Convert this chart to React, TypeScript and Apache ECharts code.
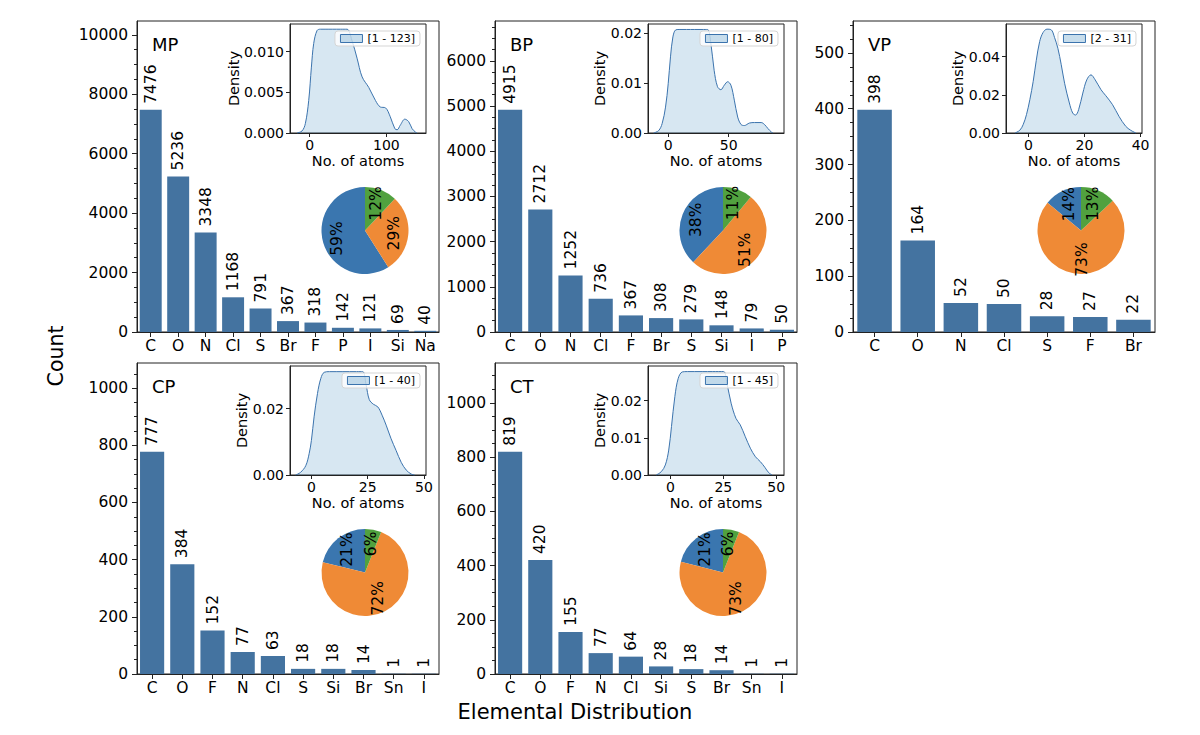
import React, { useEffect, useRef } from "react";
import * as echarts from "echarts";

// ---------- bar data ----------
const mpElements = ["C", "O", "N", "Cl", "S", "Br", "F", "P", "I", "Si", "Na"];
const mpCounts = [7476, 5236, 3348, 1168, 791, 367, 318, 142, 121, 69, 40];
const bpElements = ["C", "O", "N", "Cl", "F", "Br", "S", "Si", "I", "P"];
const bpCounts = [4915, 2712, 1252, 736, 367, 308, 279, 148, 79, 50];
const vpElements = ["C", "O", "N", "Cl", "S", "F", "Br"];
const vpCounts = [398, 164, 52, 50, 28, 27, 22];
const cpElements = ["C", "O", "F", "N", "Cl", "S", "Si", "Br", "Sn", "I"];
const cpCounts = [777, 384, 152, 77, 63, 18, 18, 14, 1, 1];
const ctElements = ["C", "O", "F", "N", "Cl", "Si", "S", "Br", "Sn", "I"];
const ctCounts = [819, 420, 155, 77, 64, 28, 18, 14, 1, 1];

// ---------- count-axis tick values ----------
const mpTicks = [0, 2000, 4000, 6000, 8000, 10000];
const bpTicks = [0, 1000, 2000, 3000, 4000, 5000, 6000];
const vpTicks = [0, 100, 200, 300, 400, 500];
const cpTicks = [0, 200, 400, 600, 800, 1000];
const ctTicks = [0, 200, 400, 600, 800, 1000];

// ---------- pie shares (blue, orange, green) ----------
const mpShares = [59, 29, 12];
const bpShares = [38, 51, 11];
const vpShares = [14, 73, 13];
const cpShares = [21, 72, 6];
const ctShares = [21, 73, 6];

// ---------- density insets ----------
const mpRange = "[1 - 123]";
const bpRange = "[1 - 80]";
const vpRange = "[2 - 31]";
const cpRange = "[1 - 40]";
const ctRange = "[1 - 45]";

const mpDensity = [
  [-16.5, 0], [-10, 0.00025], [-5.7, 0.00115], [-1.3, 0.004], [2.2, 0.0081], [5.2, 0.011],
  [9.6, 0.0126], [14, 0.01276], [20, 0.01276], [30, 0.01276], [40, 0.01276], [48.7, 0.01276],
  [55, 0.0114], [61.7, 0.0092], [68.3, 0.0069], [77, 0.0056], [85.7, 0.004], [92, 0.0032],
  [98.7, 0.0031], [105, 0.002], [111, 0.00053], [114, 0.0004], [118, 0.00095], [124, 0.0017],
  [129, 0.0014], [133.5, 0.00053], [138, 0.0001], [140, 0],
];
const bpDensity = [
  [-12, 0], [-7.8, 0.0005], [-5, 0.0019], [-2.2, 0.0052], [0, 0.0099], [1.9, 0.0153],
  [3.9, 0.0193], [6.1, 0.0207], [9, 0.0208], [15, 0.0208], [22, 0.0208], [28, 0.0208],
  [32.5, 0.0208], [35.3, 0.018], [38, 0.0126], [40.8, 0.0093], [43.6, 0.0087], [46.4, 0.0096],
  [49.2, 0.0103], [51.9, 0.0096], [54.7, 0.0066], [57.5, 0.0032], [60.3, 0.0017], [63, 0.0015],
  [67.2, 0.002], [71.4, 0.0021], [76.9, 0.0021], [79.7, 0.0017], [82.5, 0.0009], [85.3, 0.0002],
  [86.7, 0],
];
const vpDensity = [
  [-4.8, 0], [-3.1, 0.0014], [-1.9, 0.0043], [-0.7, 0.0096], [0.5, 0.0174], [1.7, 0.027],
  [2.8, 0.038], [4.0, 0.0478], [5.2, 0.0525], [6.6, 0.0543], [8.1, 0.054], [9.3, 0.05],
  [10.5, 0.0443], [11.7, 0.0357], [12.9, 0.026], [14.6, 0.0157], [15.8, 0.0104], [16.8, 0.0094],
  [17.9, 0.0122], [19.4, 0.0209], [20.8, 0.0278], [22.3, 0.0304], [23.8, 0.0278], [25.9, 0.0226],
  [27.6, 0.0195], [30.0, 0.0148], [32.3, 0.0087], [34.7, 0.0035], [36.5, 0.0014], [38.3, 0],
];
const cpDensity = [
  [-7, 0], [-4.8, 0.0008], [-2.5, 0.0028], [-1, 0.0064], [0, 0.0104], [1.2, 0.0175],
  [2.7, 0.0245], [4.2, 0.0291], [5.7, 0.0309], [8, 0.0311], [14, 0.0311], [20, 0.0311],
  [22.8, 0.0311], [24.3, 0.0271], [25.7, 0.0227], [27.5, 0.0213], [29.5, 0.0205], [31.4, 0.018],
  [33.2, 0.015], [35.4, 0.0109], [37.6, 0.0074], [39.9, 0.0038], [42.1, 0.0015], [44.3, 0.0003],
  [45.8, 0],
];
const ctDensity = [
  [-6.7, 0], [-4.3, 0.0009], [-2.4, 0.0027], [-0.8, 0.0067], [0.5, 0.013], [2.1, 0.0211],
  [3.7, 0.026], [5.6, 0.0277], [8, 0.0278], [15, 0.0278], [20, 0.0278], [25.1, 0.0278],
  [26.7, 0.0247], [28.7, 0.0193], [31, 0.0152], [33, 0.0135], [35.4, 0.0103], [37.8, 0.0072],
  [40.2, 0.0049], [42.5, 0.0036], [44.6, 0.0021], [46.5, 0.0006], [48.1, 0],
];

// inset axis limits and ticks
const mpXLim = [-25.7, 151.6];
const bpXLim = [-16.7, 95.8];
const vpXLim = [-8, 40.5];
const cpXLim = [-9.5, 50.9];
const ctXLim = [-10.6, 53.7];
const mpYMax = 0.0134;
const bpYMax = 0.0219;
const vpYMax = 0.057;
const cpYMax = 0.0328;
const ctYMax = 0.0293;
const mpXTicks = [0, 100];
const bpXTicks = [0, 50];
const vpXTicks = [0, 20, 40];
const cpXTicks = [0, 25, 50];
const ctXTicks = [0, 25, 50];
const mpYTicks = [0, 0.005, 0.01];
const bpYTicks = [0, 0.01, 0.02];
const vpYTicks = [0, 0.02, 0.04];
const cpYTicks = [0, 0.02];
const ctYTicks = [0, 0.01, 0.02];

const panels = [
  { title: "MP", cats: mpElements, counts: mpCounts, ticks: mpTicks, minor: 500, shares: mpShares, range: mpRange, density: mpDensity, xlim: mpXLim, ymax: mpYMax, xt: mpXTicks, yt: mpYTicks, dec: 3 },
  { title: "BP", cats: bpElements, counts: bpCounts, ticks: bpTicks, minor: 250, shares: bpShares, range: bpRange, density: bpDensity, xlim: bpXLim, ymax: bpYMax, xt: bpXTicks, yt: bpYTicks, dec: 2 },
  { title: "VP", cats: vpElements, counts: vpCounts, ticks: vpTicks, minor: 25, shares: vpShares, range: vpRange, density: vpDensity, xlim: vpXLim, ymax: vpYMax, xt: vpXTicks, yt: vpYTicks, dec: 2 },
  { title: "CP", cats: cpElements, counts: cpCounts, ticks: cpTicks, minor: 50, shares: cpShares, range: cpRange, density: cpDensity, xlim: cpXLim, ymax: cpYMax, xt: cpXTicks, yt: cpYTicks, dec: 2 },
  { title: "CT", cats: ctElements, counts: ctCounts, ticks: ctTicks, minor: 50, shares: ctShares, range: ctRange, density: ctDensity, xlim: ctXLim, ymax: ctYMax, xt: ctXTicks, yt: ctYTicks, dec: 2 },
];

const FRAMES = [
  [137, 21], [495, 21], [853, 21], [137, 363], [495, 363],
];
const FW = 302;
const FH = 311;
const FONT = "DejaVu Sans";
const BAR_COLOR = "#4473a0";
const PIE_COLORS = ["#3a76af", "#ef8a36", "#51a13f"];
const LINE_COLOR = "#3b73ad";
const FILL_COLOR = "rgba(31,119,180,0.25)";
const AX = "#222";

function buildOption() {
  const grid: any[] = [];
  const xAxis: any[] = [];
  const yAxis: any[] = [];
  const series: any[] = [];
  const legend: any[] = [];
  const title: any[] = [];

  panels.forEach((p, i) => {
    const [L, T] = FRAMES[i];
    const yTop = Math.max(...p.counts) * 1.4;

    // main grid
    const gMain = grid.length;
    grid.push({ left: L, top: T, width: FW, height: FH, show: true, borderColor: AX, borderWidth: 1, backgroundColor: "transparent", outerBoundsMode: "none" });
    const xMain = xAxis.length;
    xAxis.push({
      type: "category", gridIndex: gMain, data: p.cats,
      axisLine: { show: true, lineStyle: { color: AX, width: 1 } },
      axisTick: { show: true, alignWithLabel: true, length: 5, lineStyle: { color: AX } },
      axisLabel: { interval: 0, fontSize: 15.5, color: "#000", margin: 6, fontFamily: FONT },
      splitLine: { show: false },
    });
    const yMain = yAxis.length;
    yAxis.push({
      type: "value", gridIndex: gMain, position: "left", min: 0, max: yTop,
      axisLine: { show: true, onZero: false, lineStyle: { color: AX, width: 1 } },
      axisTick: { show: true, length: 5, customValues: p.ticks, lineStyle: { color: AX } },
      axisLabel: { fontSize: 15.5, color: "#000", margin: 9, customValues: p.ticks, fontFamily: FONT, formatter: (v: number) => String(Math.round(v)) },
      splitLine: { show: false },
    });
    const minorVals: number[] = [];
    for (let v = 0; v <= yTop; v += p.minor) minorVals.push(v);
    yAxis.push({
      type: "value", gridIndex: gMain, position: "left", min: 0, max: yTop,
      axisLine: { show: false },
      axisTick: { show: true, length: 3, customValues: minorVals, lineStyle: { color: AX } },
      axisLabel: { show: false },
      splitLine: { show: false },
    });
    series.push({
      type: "bar", name: p.title + " counts", xAxisIndex: xMain, yAxisIndex: yMain, data: p.counts,
      barCategoryGap: "20%", itemStyle: { color: BAR_COLOR }, silent: true,
      label: { show: true, position: "top", rotate: 90, align: "left", verticalAlign: "middle", distance: 6, fontSize: 15.5, color: "#000", fontFamily: FONT },
    });

    title.push({ text: p.title, left: L + 15, top: T + 14, padding: 0, textStyle: { fontSize: 18, fontWeight: "normal", color: "#000", fontFamily: FONT } });

    // inset density
    const IL = L + 153, IT = T + 3, IW = 136, IH = 109;
    const gIn = grid.length;
    grid.push({ left: IL, top: IT, width: IW, height: IH, show: true, borderColor: AX, borderWidth: 1, backgroundColor: "transparent", outerBoundsMode: "none" });
    const xIn = xAxis.length;
    xAxis.push({
      type: "value", gridIndex: gIn, min: p.xlim[0], max: p.xlim[1],
      name: "No. of atoms", nameLocation: "middle", nameGap: 20, nameMoveOverlap: false,
      nameTextStyle: { fontSize: 14.5, color: "#000", fontFamily: FONT },
      axisLine: { show: true, onZero: false, lineStyle: { color: AX, width: 1 } },
      axisTick: { show: true, length: 4, customValues: p.xt, lineStyle: { color: AX } },
      axisLabel: { fontSize: 14, color: "#000", margin: 5, customValues: p.xt, fontFamily: FONT, formatter: (v: number) => String(v) },
      splitLine: { show: false },
    });
    const yIn = yAxis.length;
    yAxis.push({
      type: "value", gridIndex: gIn, position: "left", min: 0, max: p.ymax,
      name: "Density", nameLocation: "middle", nameGap: p.dec === 3 ? 49 : 41, nameMoveOverlap: false,
      nameTextStyle: { fontSize: 14.5, color: "#000", fontFamily: FONT },
      axisLine: { show: true, onZero: false, lineStyle: { color: AX, width: 1 } },
      axisTick: { show: true, length: 4, customValues: p.yt, lineStyle: { color: AX } },
      axisLabel: { fontSize: 14, color: "#000", margin: 6, customValues: p.yt, fontFamily: FONT, formatter: (v: number) => v.toFixed(p.dec) },
      splitLine: { show: false },
    });
    series.push({
      type: "line", name: p.range, xAxisIndex: xIn, yAxisIndex: yIn, data: p.density,
      smooth: 0.35, showSymbol: false, symbol: "none", silent: true,
      lineStyle: { color: LINE_COLOR, width: 1 }, itemStyle: { color: LINE_COLOR },
      areaStyle: { color: FILL_COLOR },
    });
    legend.push({
      data: [{ name: p.range, icon: "rect", itemStyle: { color: FILL_COLOR, borderColor: LINE_COLOR, borderWidth: 1 } }],
      right: 1200 - (IL + IW - 6), top: IT + 7, orient: "horizontal",
      itemWidth: 22, itemHeight: 8, padding: [2, 5], selectedMode: false,
      backgroundColor: "rgba(255,255,255,0.8)", borderColor: "#d5d5d5", borderWidth: 1, borderRadius: 3,
      textStyle: { fontSize: 11, color: "#000", fontFamily: FONT },
    });

    // pie
    const center = [L + 228, T + 209.5];
    series.push({
      type: "pie", name: p.title + " pie", center, radius: [0, 43.5], startAngle: 90, clockwise: false,
      data: p.shares.map((v, j) => ({ value: v, name: p.title + "-s" + j, itemStyle: { color: PIE_COLORS[j], borderWidth: 0 } })),
      label: { show: false }, labelLine: { show: false }, silent: true, emphasis: { disabled: true },
    });
    series.push({
      type: "pie", name: p.title + " pct", center, radius: [8.7, 43.5], startAngle: 90, clockwise: false, z: 3,
      data: p.shares.map((v, j) => ({ value: v, name: p.title + "-l" + j, itemStyle: { color: "rgba(0,0,0,0)", borderWidth: 0 } })),
      label: { show: true, position: "inside", rotate: 90, formatter: (pr: any) => pr.value + "%", fontSize: 15.5, color: "#000", fontFamily: FONT, textBorderWidth: 0 },
      labelLine: { show: false }, silent: true, emphasis: { disabled: true },
    });
  });

  return {
    animation: false,
    backgroundColor: "#fff",
    textStyle: { fontFamily: FONT },
    grid, xAxis, yAxis, series, legend, title,
    graphic: [
      { type: "text", x: 56, y: 356, rotation: Math.PI / 2, style: { text: "Count", fontSize: 20.5, fill: "#000", fontFamily: FONT, align: "center", verticalAlign: "middle" } },
      { type: "text", x: 575, y: 712, style: { text: "Elemental Distribution", fontSize: 21, fill: "#000", fontFamily: FONT, align: "center", verticalAlign: "middle" } },
    ],
  };
}

export default function App() {
  const ref = useRef<HTMLDivElement>(null);
  useEffect(() => {
    if (!ref.current) return;
    const chart = echarts.init(ref.current, undefined, { renderer: "svg" });
    chart.setOption(buildOption() as any);
    return () => chart.dispose();
  }, []);
  return <div ref={ref} style={{ position: "absolute", left: 0, top: 0, width: 1200, height: 735, background: "#fff" }} />;
}
